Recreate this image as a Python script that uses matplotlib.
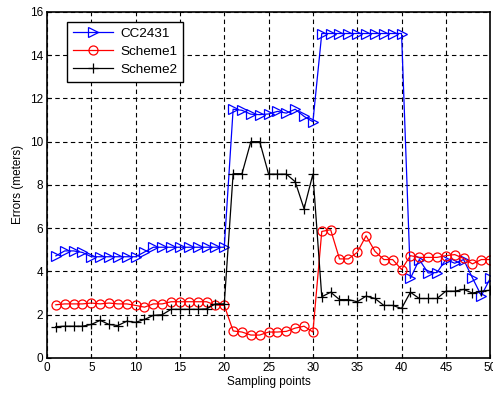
import numpy as np
import matplotlib
matplotlib.use('Agg')
import matplotlib.pyplot as plt

plt.rcParams['font.family'] = ['Liberation Sans', 'DejaVu Sans']
plt.rcParams['font.size'] = 8.5

# Data
points = np.arange(1, 51)

cc2431 = [4.72, 4.95, 4.95, 4.88, 4.68, 4.68, 4.68, 4.68, 4.68, 4.68,
          4.9, 5.12, 5.12, 5.12, 5.12, 5.12, 5.12, 5.12, 5.12, 5.12,
          11.5, 11.45, 11.27, 11.25, 11.28, 11.4, 11.32, 11.5, 11.17, 10.92,
          15.0, 15.0, 15.0, 15.0, 15.0, 15.0, 15.0, 15.0, 15.0, 15.0,
          3.68, 4.55, 3.93, 3.95, 4.55, 4.38, 4.55, 3.7, 2.88, 3.68]

scheme1 = [2.46, 2.5, 2.5, 2.5, 2.54, 2.5, 2.54, 2.5, 2.5, 2.43,
           2.35, 2.5, 2.5, 2.6, 2.6, 2.6, 2.6, 2.6, 2.45, 2.43,
           1.25, 1.2, 1.06, 1.06, 1.2, 1.2, 1.23, 1.38, 1.47, 1.2,
           5.85, 5.93, 4.58, 4.58, 4.88, 5.65, 4.93, 4.55, 4.55, 4.09,
           4.73, 4.65, 4.65, 4.65, 4.73, 4.78, 4.6, 4.35, 4.55, 4.55]

scheme2 = [1.45, 1.47, 1.47, 1.47, 1.55, 1.74, 1.55, 1.5, 1.7, 1.65,
           1.78, 1.97, 2.0, 2.25, 2.25, 2.25, 2.25, 2.27, 2.5, 2.5,
           8.52, 8.52, 10.0, 10.0, 8.5, 8.5, 8.5, 8.15, 6.9, 8.5,
           2.83, 3.04, 2.7, 2.7, 2.6, 2.86, 2.75, 2.43, 2.43, 2.29,
           3.04, 2.75, 2.75, 2.75, 3.09, 3.09, 3.17, 3.0, 3.09, 3.13]

fig = plt.figure(figsize=(4.93, 3.96), dpi=100)
ax = fig.add_axes([0.0953, 0.096, 0.899, 0.874])

ax.plot(points, cc2431, color='blue', marker='>', markersize=7.5, mfc='none',
        mew=0.9, lw=0.9, label='CC2431')
ax.plot(points, scheme1, color='red', marker='o', markersize=6.5, mfc='none',
        mew=0.9, lw=0.9, label='Scheme1')
ax.plot(points, scheme2, color='black', marker='+', markersize=7, mew=0.9,
        lw=0.9, label='Scheme2')

ax.set_xlim(0, 50)
ax.set_ylim(0, 16)
ax.set_xticks(range(0, 51, 5))
ax.set_yticks(range(0, 17, 2))
ax.grid(True, color='black', linestyle=(0, (4, 3)), linewidth=0.8)
ax.tick_params(direction='in', length=3, width=0.8, colors='black', pad=3)
for s in ax.spines.values():
    s.set_linewidth(1.2)

ax.set_xlabel('Sampling points', labelpad=1)
ax.set_ylabel('Errors (meters)', labelpad=4)

leg = ax.legend(loc='upper left', bbox_to_anchor=(0.045, 0.972), borderaxespad=0,
                fancybox=False, framealpha=1, edgecolor='black', handlelength=3.0,
                handletextpad=0.5, borderpad=0.45, labelspacing=0.4, fontsize=9.7)
leg.get_frame().set_linewidth(1.0)

fig.savefig('out.png', dpi=100)
